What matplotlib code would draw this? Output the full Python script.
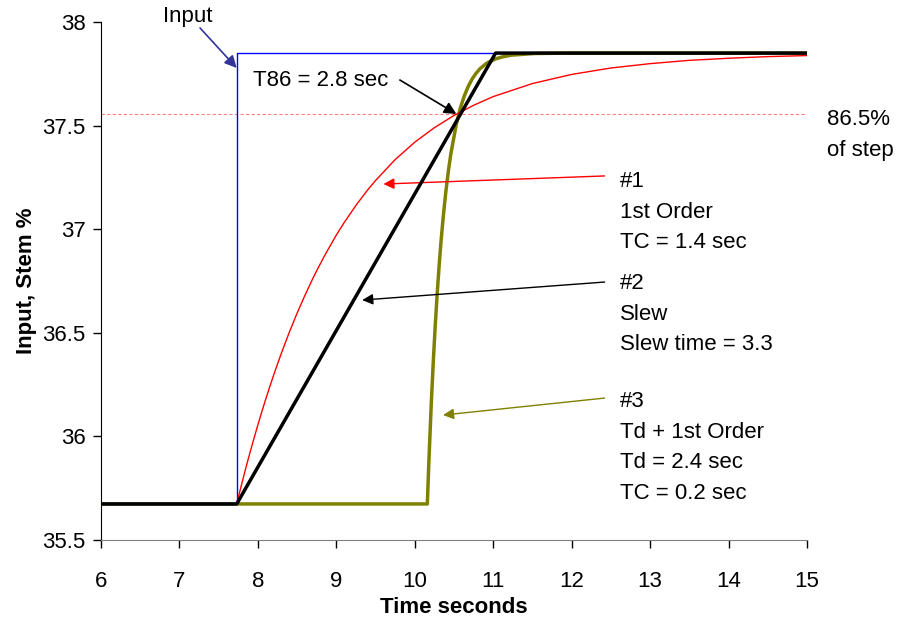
import matplotlib
matplotlib.use("Agg")
import matplotlib.pyplot as plt

plt.rcParams['font.family'] = ['Liberation Sans', 'DejaVu Sans']

# ---- data ----
input_t = [6.0, 7.73, 7.73, 15.0]
input_y = [35.674, 35.674, 37.85, 37.85]

first_order_t = [7.73, 7.75, 7.8, 7.85, 7.9, 7.95, 8.0, 8.05, 8.1, 8.15, 8.2, 8.25, 8.3,
                 8.4, 8.5, 8.6, 8.7, 8.75, 8.85, 9.0, 9.1, 9.25, 9.4, 9.5, 9.75, 10.0,
                 10.25, 10.5, 10.75, 11.0, 11.5, 12.0, 12.5, 13.0, 13.5, 14.0, 14.5, 15.0]
first_order_y = [35.674, 35.705, 35.780, 35.853, 35.923, 35.990, 36.056, 36.119, 36.180,
                 36.238, 36.295, 36.349, 36.402, 36.502, 36.595, 36.681, 36.762, 36.800,
                 36.872, 36.972, 37.032, 37.115, 37.190, 37.235, 37.336, 37.420, 37.490,
                 37.549, 37.598, 37.640, 37.703, 37.747, 37.778, 37.799, 37.815, 37.825,
                 37.833, 37.838]

slew_t = [6.0, 7.73, 11.03, 15.0]
slew_y = [35.674, 35.674, 37.85, 37.85]

td_t = [6.0, 10.16, 10.18, 10.21, 10.235, 10.26, 10.285, 10.31, 10.335, 10.36, 10.395,
        10.43, 10.46, 10.53, 10.58, 10.63, 10.68, 10.73, 10.78, 10.83, 10.91, 10.93,
        11.03, 11.11, 11.23, 11.53, 12.0, 15.0]
td_y = [35.674, 35.674, 35.881, 36.155, 36.354, 36.530, 36.685, 36.822, 36.943, 37.049,
        37.178, 37.286, 37.364, 37.508, 37.584, 37.642, 37.688, 37.724, 37.752, 37.774,
        37.799, 37.804, 37.822, 37.831, 37.840, 37.848, 37.85, 37.85]

level_865 = 37.556

x_ticks = [6, 7, 8, 9, 10, 11, 12, 13, 14, 15]
y_ticks = [35.5, 36, 36.5, 37, 37.5, 38]
y_tick_labels = ["35.5", "36", "36.5", "37", "37.5", "38"]

# ---- figure ----
fig = plt.figure(figsize=(9.0, 6.19), dpi=100)
ax = fig.add_axes([101/900, 1 - 540/619, (807 - 101)/900, (540 - 22)/619])

ax.axhline(level_865, color='#ff8080', lw=0.8, ls=(0, (3, 2)), zorder=1)
ax.plot(input_t, input_y, color='#0000ff', lw=1.0, zorder=2)
ax.plot(td_t, td_y, color='#808000', lw=2.5, zorder=3)
ax.plot(first_order_t, first_order_y, color='#ff0000', lw=1.0, zorder=3.5)
ax.plot(slew_t, slew_y, color='#000000', lw=2.5, zorder=4)

ax.set_xlim(6, 15)
ax.set_ylim(35.5, 38)
ax.set_xticks(x_ticks)
ax.set_yticks(y_ticks)
ax.set_yticklabels(y_tick_labels)
ax.tick_params(axis='both', direction='out', length=6, width=1, labelsize=16, color='black')
ax.tick_params(axis='y', pad=5)
ax.tick_params(axis='x', pad=16)
for s in ['top', 'right']:
    ax.spines[s].set_visible(False)
ax.spines['left'].set_color('black')
ax.spines['bottom'].set_color('#808080')

ax.set_xlabel('Time seconds', fontsize=16, fontweight='bold', labelpad=4)
ax.set_ylabel('Input, Stem %', fontsize=16, fontweight='bold', labelpad=4)

fs = 16
arrow_kw = dict(arrowstyle='-|>', lw=1.0, mutation_scale=16, shrinkA=0, shrinkB=0)

# Input annotation
ax.text(7.10, 38.028, 'Input', fontsize=fs, ha='center', va='center', clip_on=False)
ax.annotate('', xy=(7.73, 37.778), xytext=(7.263, 37.971), annotation_clip=False,
            arrowprops=dict(arrow_kw, color='#333399', lw=1.2, mutation_scale=18))
# T86
ax.text(7.94, 37.72, 'T86 = 2.8 sec', fontsize=fs, ha='left', va='center')
ax.annotate('', xy=(10.53, 37.556), xytext=(9.81, 37.72),
            arrowprops=dict(arrow_kw, color='black', lw=1.2, mutation_scale=18))
# 86.5%
ax.text(15.25, 37.580, '86.5%\nof step', fontsize=fs, ha='left', va='top',
        linespacing=1.6, clip_on=False)

ax.text(12.62, 37.281, '#1\n1st Order\nTC = 1.4 sec', fontsize=fs, ha='left', va='top',
        linespacing=1.6)
ax.annotate('', xy=(9.60, 37.218), xytext=(12.42, 37.257),
            arrowprops=dict(arrow_kw, color='#ff0000'))
ax.text(12.62, 36.789, '#2\nSlew\nSlew time = 3.3', fontsize=fs, ha='left', va='top',
        linespacing=1.6)
ax.annotate('', xy=(9.33, 36.658), xytext=(12.42, 36.745),
            arrowprops=dict(arrow_kw, color='black'))
ax.text(12.62, 36.219, '#3\nTd + 1st Order\nTd = 2.4 sec\nTC = 0.2 sec', fontsize=fs,
        ha='left', va='top', linespacing=1.6)
ax.annotate('', xy=(10.36, 36.103), xytext=(12.42, 36.185),
            arrowprops=dict(arrow_kw, color='#808000'))

fig.savefig('out.png', dpi=100)
